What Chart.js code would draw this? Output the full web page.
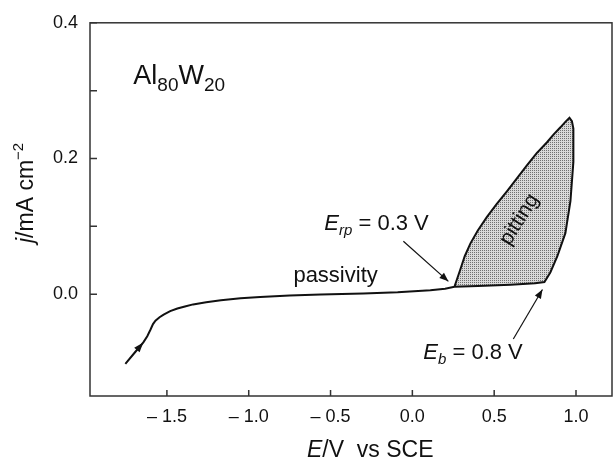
<!DOCTYPE html>
<html>
<head>
<meta charset="utf-8">
<script src="https://cdn.jsdelivr.net/npm/chart.js@4.4.1/dist/chart.umd.min.js"></script>
<style>
  body { margin: 0; background: #fff; }
  #wrap { width: 615px; height: 461px; position: relative; }
</style>
</head>
<body>
<div id="wrap"><canvas id="chart"></canvas></div>
<script>
// Polarization curve of Al80W20 (E in V vs SCE, j in mA cm-2)
// forward scan: start -> passive range -> breakdown at Eb -> top of the loop
const forwardE = [-1.754, -1.70, -1.644, -1.62, -1.60, -1.585, -1.57, -1.545, -1.52, -1.48,
  -1.436, -1.39, -1.34, -1.26, -1.17, -1.05, -0.93, -0.75, -0.56, -0.30, -0.09, 0.11, 0.20,
  0.257, 0.40, 0.60, 0.75, 0.807, 0.843, 0.886, 0.935, 0.966, 0.984, 0.984, 0.975, 0.96];
const forwardJ = [-0.1025, -0.087, -0.071, -0.062, -0.052, -0.044, -0.039, -0.034, -0.030, -0.025,
  -0.021, -0.018, -0.015, -0.012, -0.009, -0.006, -0.004, -0.002, -0.0005, 0.001, 0.003, 0.006, 0.008,
  0.011, 0.012, 0.014, 0.016, 0.018, 0.032, 0.056, 0.090, 0.137, 0.195, 0.244, 0.255, 0.260];
// reverse scan: top of the loop back down to the repassivation point
const reverseE = [0.96, 0.935, 0.905, 0.865, 0.823, 0.76, 0.70, 0.64, 0.579, 0.516, 0.456, 0.40, 0.355, 0.32, 0.293, 0.257];
const reverseJ = [0.260, 0.254, 0.246, 0.236, 0.224, 0.208, 0.190, 0.171, 0.152, 0.133, 0.114, 0.094, 0.075, 0.056, 0.0365, 0.011];

const xTicks = [-1.5, -1.0, -0.5, 0.0, 0.5, 1.0];
const xTickLabels = ["\u2013 1.5", "\u2013 1.0", "\u2013 0.5", "0.0", "0.5", "1.0"];
const yTicks = [0.0, 0.1, 0.2, 0.3, 0.4];
const yTickLabels = ["0.0", "", "0.2", "", "0.4"];

const FONT = '"Liberation Sans", Arial, Helvetica, sans-serif';
const INK = "#111";

// labels placed in data units: [E, j]
const notes = [
  { at: [-1.705, 0.310], parts: [["Al", 27], ["80", 19, false, 7], ["W", 27], ["20", 19, false, 7]] },
  { at: [-0.727, 0.0173], parts: [["passivity", 22]] },
  { at: [-0.538, 0.0953], parts: [["E", 22, true], ["rp", 15, true, 5], [" = 0.3 V", 22]] },
  { at: [0.067, -0.0953], parts: [["E", 22, true], ["b", 15, true, 5], [" = 0.8 V", 22]] },
];
const arrows = [
  { from: [-0.055, 0.078], to: [0.22, 0.019] },
  { from: [0.617, -0.066], to: [0.795, 0.007] },
];

const pathPts = forwardE.map((e, i) => ({ x: e, y: forwardJ[i] }))
  .concat(reverseE.slice(1).map((e, i) => ({ x: e, y: reverseJ[i + 1] })));
const loopPts = pathPts.slice(forwardE.indexOf(0.257));

const canvas = document.getElementById("chart");

// fine dot screen for the pitting loop
function stipple() {
  const c = document.createElement("canvas");
  c.width = 2; c.height = 2;
  const g = c.getContext("2d");
  g.fillStyle = "#d9d9d9"; g.fillRect(0, 0, 2, 2);
  g.fillStyle = "#707070"; g.fillRect(0, 0, 1, 1);
  return canvas.getContext("2d").createPattern(c, "repeat");
}

function drawRich(ctx, x, y, parts) {
  let cx = x;
  parts.forEach(([t, size, italic, dy]) => {
    ctx.font = (italic ? "italic " : "") + size + "px " + FONT;
    ctx.fillText(t, cx, y + (dy || 0));
    cx += ctx.measureText(t).width;
  });
}

function arrowHead(ctx, x0, y0, x1, y1, len, half) {
  const a = Math.atan2(y1 - y0, x1 - x0);
  ctx.beginPath();
  ctx.moveTo(x1, y1);
  ctx.lineTo(x1 - len * Math.cos(a) + half * Math.sin(a), y1 - len * Math.sin(a) - half * Math.cos(a));
  ctx.lineTo(x1 - len * Math.cos(a) - half * Math.sin(a), y1 - len * Math.sin(a) + half * Math.cos(a));
  ctx.closePath();
  ctx.fill();
}

const decor = {
  id: "decor",
  afterDraw(chart) {
    const { ctx, chartArea: a } = chart;
    const sx = chart.scales.x, sy = chart.scales.y;
    const px = (e) => sx.getPixelForValue(e);
    const py = (j) => sy.getPixelForValue(j);

    ctx.save();
    // frame and inward ticks
    ctx.strokeStyle = "#333";
    ctx.lineWidth = 1.5;
    ctx.strokeRect(a.left, a.top, a.right - a.left, a.bottom - a.top);
    ctx.beginPath();
    xTicks.forEach((v) => { ctx.moveTo(px(v), a.bottom); ctx.lineTo(px(v), a.bottom - 6); });
    yTicks.forEach((v) => { ctx.moveTo(a.left, py(v)); ctx.lineTo(a.left + 7, py(v)); });
    ctx.stroke();

    ctx.fillStyle = INK;
    ctx.strokeStyle = INK;
    ctx.textBaseline = "alphabetic";
    ctx.textAlign = "left";
    notes.forEach((n) => drawRich(ctx, px(n.at[0]), py(n.at[1]), n.parts));

    // pointer arrows
    ctx.lineWidth = 1.2;
    arrows.forEach((r) => {
      const x0 = px(r.from[0]), y0 = py(r.from[1]), x1 = px(r.to[0]), y1 = py(r.to[1]);
      ctx.beginPath(); ctx.moveTo(x0, y0); ctx.lineTo(x1, y1); ctx.stroke();
      arrowHead(ctx, x0, y0, x1, y1, 9, 3.5);
    });
    // scan direction on the curve
    arrowHead(ctx, px(forwardE[1]), py(forwardJ[1]), px(forwardE[2]), py(forwardJ[2]), 10, 3.5);

    // rotated label inside the loop
    ctx.save();
    ctx.translate(px(0.654), py(0.110));
    ctx.rotate(-58 * Math.PI / 180);
    ctx.textAlign = "center";
    ctx.textBaseline = "middle";
    ctx.font = "21px " + FONT;
    ctx.fillText("pitting", 0, 0);
    ctx.restore();

    // axis titles
    drawRich(ctx, 307, 457, [["E", 23, true], ["/V  vs SCE", 23]]);
    ctx.save();
    ctx.translate(33, 243);
    ctx.rotate(-Math.PI / 2);
    drawRich(ctx, 0, 0, [["j", 23, true], ["/mA cm", 23], ["\u22122", 15, false, -10]]);
    ctx.restore();
    ctx.restore();
  },
};

new Chart(canvas, {
  type: "scatter",
  data: {
    datasets: [
      {
        data: pathPts,
        showLine: true,
        borderColor: "#111",
        borderWidth: 2,
        pointRadius: 0,
        fill: false,
        order: 0,
      },
      {
        data: loopPts,
        showLine: true,
        borderWidth: 0,
        borderColor: "rgba(0,0,0,0)",
        pointRadius: 0,
        backgroundColor: stipple(),
        fill: "shape",
        order: 1,
      },
    ],
  },
  options: {
    responsive: true,
    maintainAspectRatio: false,
    animation: false,
    layout: { padding: { top: 15, right: 3, left: 0, bottom: 0 } },
    plugins: { legend: { display: false }, tooltip: { enabled: false } },
    scales: {
      x: {
        type: "linear",
        min: -1.97,
        max: 1.22,
        afterBuildTicks: (s) => { s.ticks = xTicks.map((v) => ({ value: v })); },
        afterFit: (s) => { s.height = 65; },
        ticks: {
          callback: (v, i) => xTickLabels[i],
          font: { family: FONT, size: 18 },
          color: INK,
          padding: 10,
          maxRotation: 0,
          autoSkip: false,
        },
        grid: { display: false, drawTicks: false },
        border: { display: false },
      },
      y: {
        type: "linear",
        min: -0.15,
        max: 0.4,
        afterBuildTicks: (s) => { s.ticks = yTicks.map((v) => ({ value: v })); },
        afterFit: (s) => { s.width = 90; },
        ticks: {
          callback: (v, i) => yTickLabels[i],
          font: { family: FONT, size: 18 },
          color: INK,
          padding: 12,
          autoSkip: false,
        },
        grid: { display: false, drawTicks: false },
        border: { display: false },
      },
    },
  },
  plugins: [decor],
});
</script>
</body>
</html>
